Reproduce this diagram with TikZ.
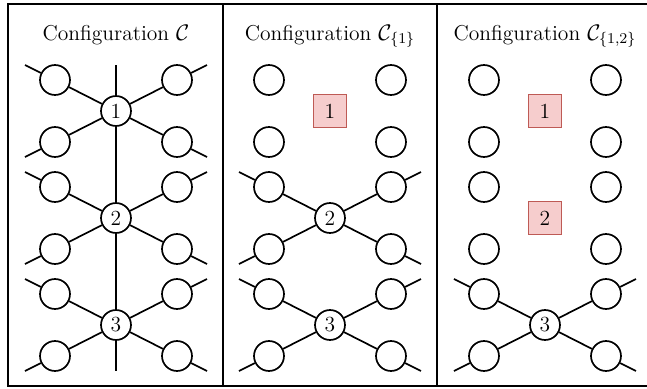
\documentclass[tikz,border=0pt]{standalone}
\definecolor{boxfill}{HTML}{F6CDCD}
\definecolor{boxdraw}{HTML}{BE5A55}
\begin{document}
\begin{tikzpicture}[x=0.534pt,y=-0.534pt,
  every node/.style={font=\fontsize{11.5pt}{14pt}\selectfont},
  leaf/.style={circle,draw,fill=white,line width=0.9pt,minimum size=16pt,inner sep=0pt},
  hub/.style={leaf},
  removed/.style={rectangle,draw=boxdraw,fill=boxfill,line width=0.9pt,minimum size=17.5pt,inner sep=0pt},
  edge/.style={line width=0.9pt},
  frame/.style={line width=1.1pt},
  title/.style={anchor=base}]
\useasboundingbox (0,0) rectangle (647,389);
% frame
\draw[frame] (8,4) rectangle (660,386);
\draw[frame] (223,4) -- (223,386);
\draw[frame] (437,4) -- (437,386);
% titles
\node[title] (ta) at (116,40) {Configuration $\mathcal{C}$};
\node[title] (tb) at (330,40) {Configuration $\mathcal{C}_{\{1\}}$};
\node[title] (tc) at (545,40) {Configuration $\mathcal{C}_{\{1,2\}}$};
% leaves
\foreach \p/\cx in {a/116,b/330,c/545}
  \foreach \g/\cy in {1/111,2/218,3/325} {
    \node[leaf] (\p\g tl) at (\cx-61,\cy-31) {};
    \node[leaf] (\p\g tr) at (\cx+61,\cy-31) {};
    \node[leaf] (\p\g bl) at (\cx-61,\cy+31) {};
    \node[leaf] (\p\g br) at (\cx+61,\cy+31) {};
  }
% hubs
\node[hub] (a1) at (116,111) {1};
\node[hub] (a2) at (116,218) {2};
\node[hub] (a3) at (116,325) {3};
\node[removed] (b1) at (330,111) {1};
\node[hub] (b2) at (330,218) {2};
\node[hub] (b3) at (330,325) {3};
\node[removed] (c1) at (545,111) {1};
\node[removed] (c2) at (545,218) {2};
\node[hub] (c3) at (545,325) {3};
% vertical line of panel 1
\coordinate (atop) at (116,65);
\coordinate (abot) at (116,371);
\draw[edge] (atop) -- (a1) -- (a2) -- (a3) -- (abot);
% edges
\foreach \h/\cx/\cy in {a1/116/111,a2/116/218,a3/116/325,b2/330/218,b3/330/325,c3/545/325}
  \foreach \s/\dx/\dy in {tl/-1/-1,tr/1/-1,bl/-1/1,br/1/1} {
    \coordinate (\h\s x) at (\cx+91*\dx,\cy+46*\dy);
    \draw[edge] (\h) -- (\h\s) -- (\h\s x);
  }
\end{tikzpicture}
\end{document}
